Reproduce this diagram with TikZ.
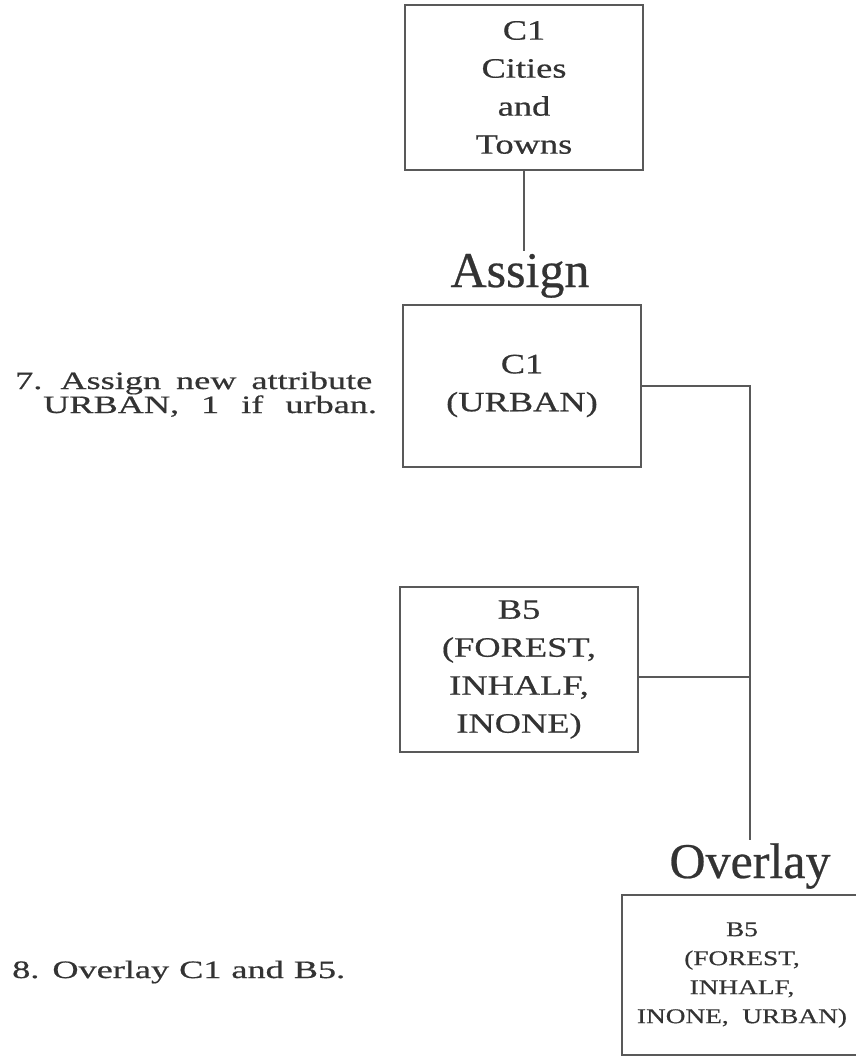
\documentclass[tikz,border=0pt]{standalone}
\usepackage{fontspec}
\setmainfont{Liberation Serif}[FakeBold=0.6]
\newfontfamily\opfont[FakeBold=0.5]{Liberation Serif}
\newfontfamily\boxfont[FakeStretch=1.3,FakeBold=0.6]{Liberation Serif}
\newfontfamily\resultfont[FakeStretch=1.3,FakeBold=0.6]{Liberation Serif}
\newfontfamily\notefont[FakeStretch=1.45,FakeBold=0.6]{Liberation Serif}
\usetikzlibrary{positioning}

\tikzset{
  layer/.style={draw=black!65, line width=1.1pt, minimum width=238pt, align=center,
    inner sep=0pt, text=black!80, font=\boxfont\fontsize{28}{38}\selectfont},
  opname/.style={anchor=base, inner sep=3pt, text=black!80, font=\opfont\fontsize{50}{56}\selectfont},
  note/.style={anchor=base west, align=left, inner sep=0pt, text=black!80,
    font={\notefont\fontsize{25}{24}\selectfont\spaceskip=15pt plus 3pt}},
  link/.style={draw=black!65, line width=1.1pt}
}

\begin{document}
\begin{tikzpicture}[x=1pt, y=-1pt]
  \useasboundingbox (0,0) rectangle (856,1057);

  % layers
  \node[layer, minimum height=165pt] (cities) at (524,87.5) {C1\\Cities\\and\\Towns};
  \node[layer, minimum height=162pt] (urban)  at (522,386)  {C1\\(URBAN)};
  \node[layer, minimum height=165pt] (forest) at (519,669.5) {B5\\(FOREST,\\INHALF,\\INONE)};
  \node[layer, minimum width=240pt, minimum height=160pt,
        font=\resultfont\fontsize{21}{29}\selectfont] (result) at (742,975)
        {B5\\(FOREST,\\INHALF,\\INONE,\ \ URBAN)};

  % operations
  \node[opname] (assign)  at (520,287) {Assign};
  \node[opname] (overlay) at (750,878) {Overlay};

  % steps
  \node[note] (step7) at (15,413)
    {7. Assign new attribute\\\hspace*{28pt}{\spaceskip=22pt plus 3pt URBAN, 1 if urban.}};
  \node[note, font={\notefont\fontsize{25}{24}\selectfont\spaceskip=10pt plus 2pt}]
    (step8) at (12,978) {8. Overlay C1 and B5.};

  % connectors
  \draw[link] (cities.south) -- (cities.south |- assign.north);
  \draw[link] (urban.east) -| (overlay.north);
  \draw[link] ([yshift=-7.5pt]forest.east) -- ([yshift=-7.5pt]forest.east -| overlay.north);
\end{tikzpicture}
\end{document}
